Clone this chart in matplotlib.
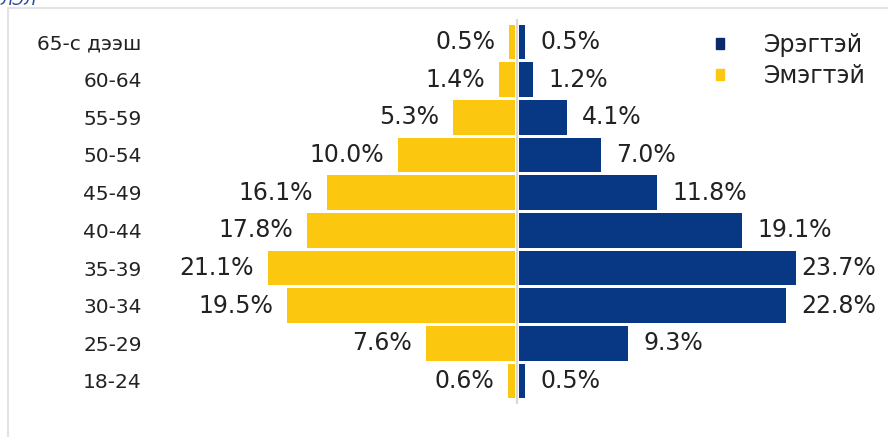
import matplotlib.pyplot as plt
from matplotlib.patches import Rectangle, Patch

# Насны бүлэг (доороос дээш)
age_groups = ["18-24", "25-29", "30-34", "35-39", "40-44",
              "45-49", "50-54", "55-59", "60-64", "65-с дээш"]
male = [0.5, 9.3, 22.8, 23.7, 19.1, 11.8, 7.0, 4.1, 1.2, 0.5]
female = [0.6, 7.6, 19.5, 21.1, 17.8, 16.1, 10.0, 5.3, 1.4, 0.5]
series_names = ["Эрэгтэй", "Эмэгтэй"]

BLUE = "#083784"
YELLOW = "#FBC80F"
LEGEND_BLUE = "#0a2a6b"

W, H = 888, 437
fig = plt.figure(figsize=(W / 100, H / 100), dpi=100)

# axes placed in pixel terms
px_per_pct = 11.7
center_px = 517
ax_left, ax_right = 150, 888
row_top, row_bot = 42, 381
step = (row_bot - row_top) / (len(age_groups) - 1)
ax_top = row_top - 0.6 * step
ax_bot = row_bot + 0.6 * step
ax = fig.add_axes([ax_left / W, 1 - ax_bot / H,
                   (ax_right - ax_left) / W, (ax_bot - ax_top) / H])
ax.set_xlim((ax_left - center_px) / px_per_pct, (ax_right - center_px) / px_per_pct)
ax.set_ylim(-0.6, len(age_groups) - 1 + 0.6)

y = range(len(age_groups))
gap = 0.17
ax.barh(y, male, left=gap, height=0.92, color=BLUE)
ax.barh(y, [-v for v in female], left=-gap, height=0.92, color=YELLOW)
ax.axvline(0, color="#d9d9d9", lw=1.6, zorder=3)

lab_w = 6.6          # label width in data units (approx)
right_lim = (878 - center_px) / px_per_pct
for i in y:
    start = min(male[i] + gap + 1.3, right_lim - lab_w)
    ax.text(start, i, f"{male[i]:.1f}%", va="center", ha="left",
            fontsize=17, color="#222222")
    ax.text(-female[i] - gap - 1.2, i, f"{female[i]:.1f}%", va="center", ha="right",
            fontsize=17, color="#222222")

ax.set_yticks(list(y))
ax.set_yticklabels(age_groups, fontsize=14.5, color="#222222")
ax.tick_params(axis="y", length=0, pad=6)
ax.set_xticks([])
for s in ax.spines.values():
    s.set_visible(False)

handles = [Patch(color=LEGEND_BLUE), Patch(color=YELLOW)]
fig.legend(handles, series_names, loc="upper left",
           bbox_to_anchor=(716 / W, 1 - 33 / H), frameon=False,
           fontsize=17, handlelength=0.32, handleheight=0.32,
           handletextpad=1.7, labelspacing=0.3, labelcolor="#222222",
           borderpad=0, borderaxespad=0)

# frame of the chart box
fig.patches.append(Rectangle((8 / W, -0.1), 1.2, 1 - 8 / H + 0.1,
                             transform=fig.transFigure, fill=False,
                             edgecolor="#e3e3e3", lw=1.5))
fig.text(0.0, 1.0, "ЛЭЛ", color="#2a4a9a", fontsize=12, style="italic",
         va="center", ha="left")

fig.savefig("out.png", dpi=100)
